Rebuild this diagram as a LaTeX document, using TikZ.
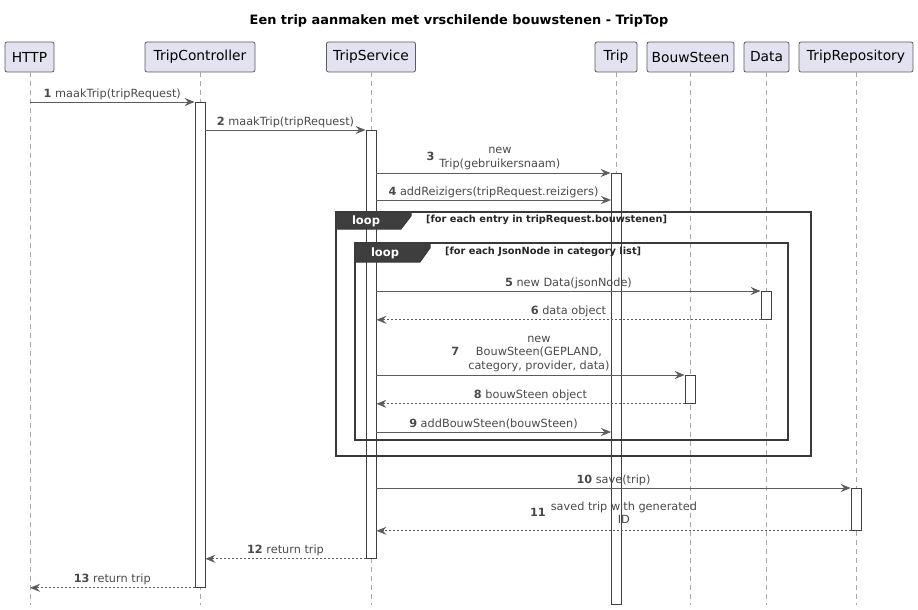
\documentclass[tikz,border=0pt]{standalone}
\usepackage{fontspec}
\setmainfont{DejaVu Sans}
\usetikzlibrary{arrows.meta}
\definecolor{partfill}{HTML}{E2E2F0}
\definecolor{linec}{HTML}{5C5C5C}
\definecolor{txtc}{HTML}{4A4A4A}
\definecolor{tabc}{HTML}{3E3E3E}
\definecolor{framec}{HTML}{3A3A3A}
\definecolor{lifec}{HTML}{A8A8A8}
\newcommand\msgsize{\fontsize{11.3}{13.5}\selectfont}
\begin{document}
\begin{tikzpicture}[x=1pt,y=-1pt,
  part/.style={draw=linec, line width=0.8pt, fill=partfill, rounded corners=2pt,
    font=\fontsize{13.8}{16}\selectfont, text=black, inner sep=0pt, minimum height=30pt},
  life/.style={draw=lifec, line width=0.7pt, dash pattern=on 5pt off 4pt},
  act/.style={draw=black!75, fill=white, line width=0.8pt, minimum width=10pt, inner sep=0pt, anchor=north},
  msg/.style={draw=linec, line width=0.9pt, -{Stealth[length=10pt,width=8pt,inset=3.5pt,fill=linec]}},
  ret/.style={msg, dash pattern=on 2pt off 2pt},
  mlab/.style={font=\msgsize, text=txtc, inner sep=0pt, anchor=base, yshift=5pt},
  mlabm/.style={font=\msgsize, text=txtc, inner sep=0pt, anchor=south, yshift=1.3pt},
  frm/.style={draw=framec, line width=1.3pt},
  tabshape/.style={fill=tabc, draw=framec, line width=1pt},
  tabtxt/.style={font=\bfseries\fontsize{11.5}{13}\selectfont, text=white, inner sep=0pt},
  condtxt/.style={font=\bfseries\fontsize{9.8}{12}\selectfont, text=black!85, inner sep=0pt, anchor=west}
]
\useasboundingbox (0,0) rectangle (918,610);
\fill[white] (0,0) rectangle (918,610);

% title
\node[font=\bfseries\fontsize{12.9}{15}\selectfont, inner sep=0pt] (title) at (459,21) {Een trip aanmaken met vrschilende bouwstenen - TripTop};

% participants
\node[part, minimum width=49pt]  (pHTTP) at (29.5,57) {HTTP};
\node[part, minimum width=110pt] (pTC)   at (200,57)  {TripController};
\node[part, minimum width=89pt]  (pTS)   at (371,57)  {TripService};
\node[part, minimum width=42pt]  (pTrip) at (616,57)  {Trip};
\node[part, minimum width=87pt]  (pBS)   at (690.5,57) {BouwSteen};
\node[part, minimum width=45pt]  (pData) at (766.5,57) {Data};
\node[part, minimum width=114pt] (pRepo) at (856,57)  {TripRepository};

% lifeline ends
\coordinate (eHTTP) at (30,605);
\coordinate (eTC)   at (200,605);
\coordinate (eTS)   at (371,605);
\coordinate (eTrip) at (616,605);
\coordinate (eBS)   at (690,605);
\coordinate (eData) at (766,605);
\coordinate (eRepo) at (856,605);
\draw[life] (pHTTP.south -| eHTTP) -- (eHTTP);
\draw[life] (pTC.south -| eTC) -- (eTC);
\draw[life] (pTS.south -| eTS) -- (eTS);
\draw[life] (pTrip.south -| eTrip) -- (eTrip);
\draw[life] (pBS.south -| eBS) -- (eBS);
\draw[life] (pData.south -| eData) -- (eData);
\draw[life] (pRepo.south -| eRepo) -- (eRepo);

% activations
\node[act, minimum height=485pt] (aTC)   at (200,102) {};
\node[act, minimum height=428pt] (aTS)   at (371,130) {};
\node[act, minimum height=431pt] (aTrip) at (616,173) {};
\node[act, minimum height=28pt]  (aData) at (766,291) {};
\node[act, minimum height=28pt]  (aBS)   at (690,375) {};
\node[act, minimum height=42pt]  (aRepo) at (856,488) {};

% loop frames
\draw[frm] (336,212) rectangle (811,456);
\draw[tabshape] (336,212) -- (411,212) -- (411,216) -- (401,229) -- (336,229) -- cycle;
\node[tabtxt] (loop1) at (366,221) {loop};
\node[condtxt] (cond1) at (426,220) {[for each entry in tripRequest.bouwstenen]};

\draw[frm] (355,243) rectangle (788,440);
\draw[tabshape] (355,243) -- (430,243) -- (430,248) -- (420,262) -- (355,262) -- cycle;
\node[tabtxt] (loop2) at (385,253) {loop};
\node[condtxt] (cond2) at (445,252) {[for each JsonNode in category list]};

% messages
\coordinate (m4a) at (376,200);
\coordinate (m4b) at (611,200);
\coordinate (m9a) at (376,432);
\coordinate (m9b) at (611,432);

\draw[msg] (eHTTP |- aTC.north) -- node[mlab]{\textbf{1} maakTrip(tripRequest)} (aTC.north west);
\draw[msg] (aTC.east |- aTS.north) -- node[mlab]{\textbf{2} maakTrip(tripRequest)} (aTS.north west);
\draw[msg] (aTS.east |- aTrip.north) -- node[mlabm]{\textbf{3}\hspace{5pt}\begin{tabular}[c]{@{}c@{}}new\\Trip(gebruikersnaam)\end{tabular}} (aTrip.north west);
\draw[msg] (m4a) -- node[mlab]{\textbf{4} addReizigers(tripRequest.reizigers)} (m4b);
\draw[msg] (aTS.east |- aData.north) -- node[mlab]{\textbf{5} new Data(jsonNode)} (aData.north west);
\draw[ret] (aData.south west) -- node[mlab]{\textbf{6} data object} (aTS.east |- aData.south);
\draw[msg] (aTS.east |- aBS.north) -- node[mlabm]{\textbf{7}\hspace{9pt}\begin{tabular}[c]{@{}c@{}}new\\BouwSteen(GEPLAND,\\category, provider, data)\end{tabular}} (aBS.north west);
\draw[ret] (aBS.south west) -- node[mlab]{\textbf{8} bouwSteen object} (aTS.east |- aBS.south);
\draw[msg] (m9a) -- node[mlab]{\textbf{9} addBouwSteen(bouwSteen)} (m9b);
\draw[msg] (aTS.east |- aRepo.north) -- node[mlab]{\textbf{10} save(trip)} (aRepo.north west);
\draw[ret] (aRepo.south west) -- node[mlabm, yshift=1.5pt]{\textbf{11}\hspace{5pt}\begin{tabular}[c]{@{}c@{}}saved trip with generated\\ID\end{tabular}} (aTS.east |- aRepo.south);
\draw[ret] (aTS.south west) -- node[mlab]{\textbf{12} return trip} (aTC.east |- aTS.south);
\draw[ret] (aTC.south west) -- node[mlab]{\textbf{13} return trip} (eHTTP |- aTC.south);
\end{tikzpicture}
\end{document}
